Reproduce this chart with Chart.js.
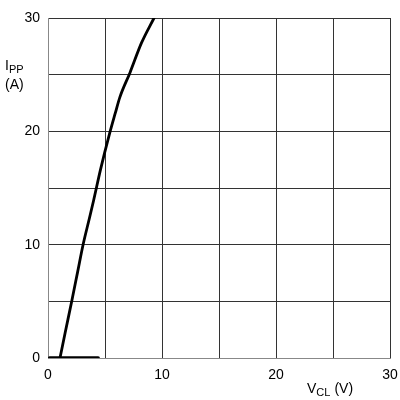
<!DOCTYPE html>
<html>
<head>
<meta charset="utf-8">
<script src="https://cdn.jsdelivr.net/npm/chart.js@4"></script>
<style>
  html, body { margin: 0; padding: 0; background: #fff; }
  canvas { display: block; }
</style>
</head>
<body>
<canvas id="chart" width="400" height="400"></canvas>
<script>
// values
const curveV = [1.05, 1.5, 2.1, 2.6, 3.1, 3.6, 4.0, 4.6, 5.4, 5.9, 6.3, 7.2, 8.2, 9.3];
const curveI = [0, 2.2, 5.1, 7.6, 10.1, 12.2, 13.9, 16.6, 19.8, 21.6, 23.0, 25.2, 27.8, 30];
const flatV = [0.15, 4.4];
const flatI = [0, 0];
const xTicks = [0, 10, 20, 30];
const yTicks = [0, 10, 20, 30];

const toPoints = (xs, ys) => xs.map((x, i) => ({ x: x, y: ys[i] }));

// axis titles with subscripts
const axisTitles = {
    id: "axisTitles",
    afterDraw(chart) {
        const ctx = chart.ctx;
        ctx.save();
        ctx.fillStyle = "#000";
        ctx.textBaseline = "alphabetic";
        ctx.textAlign = "left";

        ctx.font = "14px 'Liberation Sans', Arial, sans-serif";
        ctx.fillText("I", 5, 70);
        ctx.font = "11px 'Liberation Sans', Arial, sans-serif";
        ctx.fillText("PP", 9, 73);
        ctx.font = "14px 'Liberation Sans', Arial, sans-serif";
        ctx.fillText("(A)", 5, 89);

        ctx.fillText("V", 307, 393);
        let w = ctx.measureText("V").width;
        ctx.font = "11px 'Liberation Sans', Arial, sans-serif";
        ctx.fillText("CL", 307 + w, 396);
        const w2 = ctx.measureText("CL").width;
        ctx.font = "14px 'Liberation Sans', Arial, sans-serif";
        ctx.fillText("(V)", 307 + w + w2 + 4, 393);
        ctx.restore();
    }
};

const ctx = document.getElementById("chart").getContext("2d");
new Chart(ctx, {
    type: "scatter",
    data: {
        datasets: [
            {
                data: toPoints(flatV, flatI),
                showLine: true,
                borderColor: "#000",
                borderWidth: 3.5,
                pointRadius: 0,
                borderCapStyle: "round"
            },
            {
                data: toPoints(curveV, curveI),
                showLine: true,
                borderColor: "#000",
                borderWidth: 2.8,
                pointRadius: 0,
                cubicInterpolationMode: "monotone",
                borderCapStyle: "round"
            }
        ]
    },
    options: {
        responsive: false,
        animation: false,
        events: [],
        layout: { padding: { left: 0, right: 10, top: 18, bottom: 0 } },
        plugins: {
            legend: { display: false },
            tooltip: { enabled: false }
        },
        scales: {
            x: {
                type: "linear",
                min: 0,
                max: 30,
                afterFit: scale => {
                    scale.height = 42;
                    scale.paddingLeft = 0;
                    scale.paddingRight = 0;
                },
                grid: { color: "#333", lineWidth: 1, drawTicks: false },
                border: { color: "#888", width: 1 },
                ticks: {
                    stepSize: 5,
                    padding: 9,
                    color: "#000",
                    font: { size: 14, family: "'Liberation Sans', Arial, sans-serif" },
                    callback: v => xTicks.includes(v) ? String(v) : ""
                }
            },
            y: {
                type: "linear",
                min: 0,
                max: 30,
                afterFit: scale => {
                    scale.width = 48;
                    scale.paddingTop = 0;
                    scale.paddingBottom = 0;
                },
                grid: { color: "#333", lineWidth: 1, drawTicks: false },
                border: { color: "#888", width: 1 },
                ticks: {
                    stepSize: 5,
                    padding: 8,
                    color: "#000",
                    font: { size: 14, family: "'Liberation Sans', Arial, sans-serif" },
                    callback: v => yTicks.includes(v) ? String(v) : ""
                }
            }
        }
    },
    plugins: [axisTitles]
});
</script>
</body>
</html>
